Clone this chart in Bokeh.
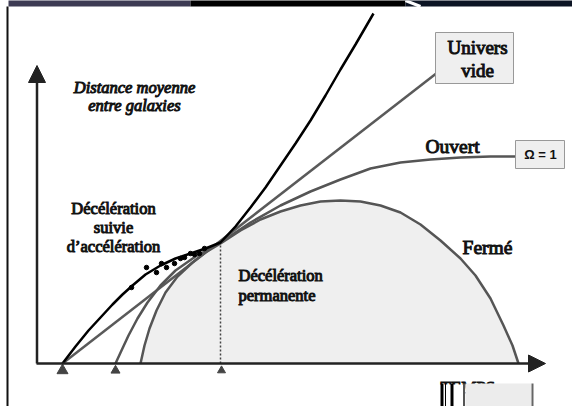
from bokeh.plotting import figure
from bokeh.models import Range1d, Arrow, NormalHead
from bokeh.core.properties import value
from bokeh.embed import file_html
from bokeh.resources import INLINE

# ---- data (time t, mean distance d; arbitrary units, origin at axes corner) ----
black_t = [26, 39, 52, 64, 76, 86, 96, 109, 124, 139, 154, 169, 184, 199, 214, 229, 244, 259, 274, 289, 304, 319, 337]
black_d = [0, 17, 33, 46, 59, 69, 78, 89, 98, 105, 110, 115, 121, 137, 156, 176, 198, 220, 243, 268, 294, 319, 350]

vide_t = [26, 401]
vide_d = [0, 291]

ouvert_t = [79, 85, 92, 101, 111, 124, 139, 159, 184, 214, 244, 274, 304, 334, 364, 394, 424, 454, 479]
ouvert_d = [0, 13, 28, 45, 61, 78, 93, 107, 121, 141, 158, 172, 184, 195, 201, 204, 206, 207, 207]

ferme_t = [104, 108, 113, 120, 129, 141, 156, 169, 184, 204, 224, 244, 264, 284, 304, 324, 344, 364, 384, 404, 424, 439, 454, 467, 476, 482]
ferme_d = [0, 18, 35, 53, 71, 87, 101, 111, 120, 133, 144, 152, 158, 162, 163, 162, 158, 151, 139, 123, 105, 88, 65, 38, 18, 0]

sn_t = [95, 110, 120, 125, 130, 138, 144, 148, 154, 158, 163, 168]
sn_d = [76, 96, 91, 100, 96, 100, 105, 106, 110, 109, 110, 115]

now_t = 184
now_d = 121
origins_t = [26, 79, 185]

p = figure(width=572, height=406, output_backend="svg", toolbar_location=None,
           x_axis_location=None, y_axis_location=None, min_border=0,
           x_range=Range1d(-36, 536), y_range=Range1d(-43, 363))
p.grid.visible = False
p.outline_line_color = None
p.background_fill_color = "white"

INK = "#111111"
SERIF = value("Liberation Serif")


def label(xs, ys, texts, size, style="normal", align="center", baseline="middle"):
    kw = dict(x=xs, y=ys, text=texts, text_font=SERIF, text_font_style=style,
              text_font_size=size, text_align=align, text_baseline=baseline,
              text_color=INK)
    try:
        p.text(text_outline_color=INK, **kw)
    except Exception:
        p.text(**kw)
        p.text(x_offset=0.8, **kw)


# slide header strip and left border
p.quad(left=[-28, 154, 369], right=[154, 369, 536], top=[364] * 3, bottom=[357] * 3,
       fill_color=["#3d3b53", "#000000", "#0c1424"], line_color=None)
p.segment(x0=[369], y0=[363], x1=[384], y1=[357], line_color="white", line_width=3)
p.segment(x0=[-29], y0=[-43], x1=[-29], y1=[357], line_color="#111111", line_width=2)

# filled region under the closed-universe curve
p.varea(x=ferme_t, y1=[0] * len(ferme_t), y2=ferme_d, fill_color="#efefef")

# present-time dotted line
p.segment(x0=[now_t], y0=[0], x1=[now_t], y1=[now_d], line_color="#444444",
          line_width=1.5, line_dash="2 2")

# curves
p.line(vide_t, vide_d, line_color="#5a5a5a", line_width=2.5)
p.line(ouvert_t, ouvert_d, line_color="#555555", line_width=2.5)
p.line(ferme_t, ferme_d, line_color="#555555", line_width=2.5)
p.line(black_t, black_d, line_color="#000000", line_width=2.5)

# observations
p.scatter(sn_t, sn_d, size=4.5, color="#000000")

# big-bang markers
p.scatter(origins_t, [-7, -7, -7], marker="triangle", size=[11, 9, 8], color="#444444")

# axes as arrows
p.add_layout(Arrow(end=NormalHead(size=17, fill_color="#222222", line_color="#222222"),
                   x_start=0.5, y_start=0, x_end=0.5, y_end=298,
                   line_color="#222222", line_width=2.5))
p.add_layout(Arrow(end=NormalHead(size=17, fill_color="#222222", line_color="#222222"),
                   x_start=0, y_start=0, x_end=509, y_end=0,
                   line_color="#222222", line_width=2.5))

# boxes
p.quad(left=[399], right=[477], top=[331], bottom=[280], fill_color="#efefef",
       line_color="#999999", line_width=1)
p.quad(left=[479], right=[528], top=[223], bottom=[195], fill_color="#efefef",
       line_color="#999999", line_width=1)

# labels
label([98, 98], [276, 258], ["Distance moyenne", "entre galaxies"], "16.5px", style="italic")
label([77, 77, 77], [155, 136, 117], ["Décélération", "suivie", "d’accélération"], "16.5px")
label([202, 202], [88, 68], ["Décélération", "permanente"], "16.5px", align="left")
label([441, 441], [316, 293], ["Univers", "vide"], "19px")
label([416], [217], ["Ouvert"], "19.5px")
label([451], [116], ["Fermé"], "19.5px")
p.text(x=[504], y=[209], text=["Ω = 1"],
       text_font=value("Liberation Sans"), text_font_style="bold", text_font_size="13px",
       text_align="center", text_baseline="middle", text_color=INK)

# garbled "TEMPS" label at bottom right
label([404], [-14], ["TEMPS"], "17px", align="left", baseline="top")
p.quad(left=[402], right=[429], top=[-21], bottom=[-43], fill_color="white", line_color=None)
p.quad(left=[429], right=[495], top=[-20], bottom=[-43], fill_color="#ececec", line_color=None)
p.segment(x0=[405.5, 409, 415.5], y0=[-20] * 3, x1=[405.5, 409, 415.5], y1=[-43] * 3,
          line_color="#000000", line_width=[3, 1, 3])
p.segment(x0=[427.5, 496], y0=[-20, -20], x1=[427.5, 496], y1=[-43, -43],
          line_color=["#555555", "#666666"], line_width=2)

open("out.html", "w").write(file_html(p, INLINE))
